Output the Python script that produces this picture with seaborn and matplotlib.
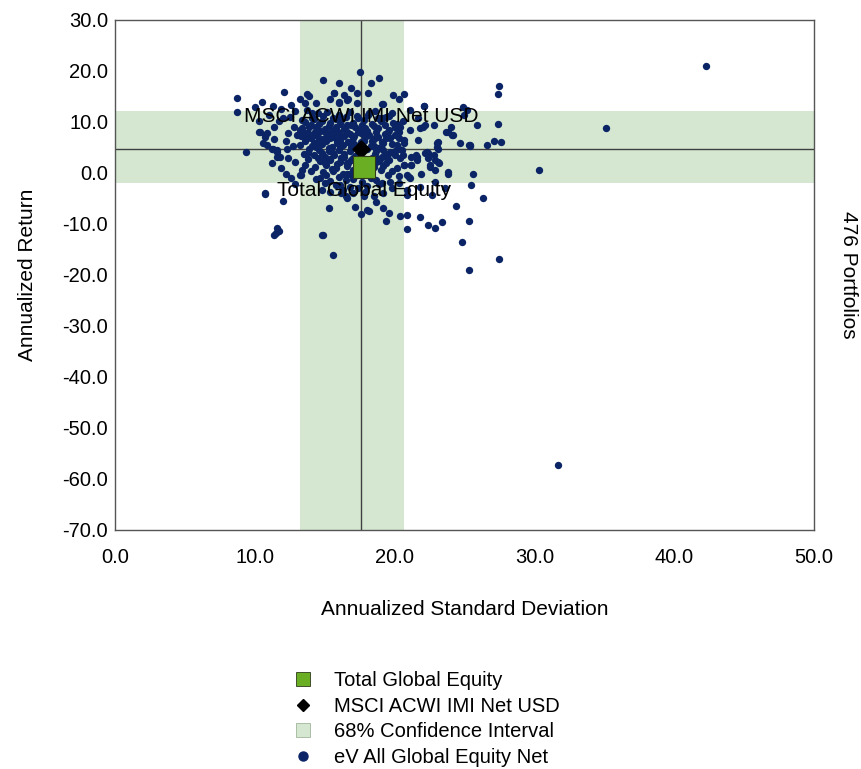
import numpy as np
import pandas as pd
import matplotlib
matplotlib.use("Agg")
import matplotlib.pyplot as plt
from matplotlib.lines import Line2D
import seaborn as sns

# peer universe (annualized std dev, annualized return)
peer_sd = [
    42.3, 35.1, 30.3, 31.7, 27.5, 27.4, 24.9, 25.0, 25.9, 27.4, 27.1, 27.6, 26.6, 25.4,
    25.6, 25.5, 26.3, 25.3, 24.8, 27.5, 25.3, 15.6, 14.8, 11.5, 11.6, 10.7, 9.4, 8.7, 8.7,
    11.2, 10.7, 12.0, 13.4, 13.3, 11.6, 11.6, 11.2, 10.9, 10.7, 13.2, 11.7, 11.4, 15.3,
    14.9, 14.4, 15.1, 15.4, 14.8, 16.5, 16.1,
    23.8, 24.4, 23.4, 22.9, 22.4, 21.8, 20.9, 20.9, 20.4, 19.4, 19.6, 17.6, 18.0, 18.2,
    19.2, 18.7, 17.2, 16.6, 20.9, 21.8, 22.9, 23.2, 22.5, 23.1, 22.8, 22.4, 21.6, 21.2,
    21.0, 20.7, 19.8, 19.1, 19.4, 20.0, 20.6, 22.3, 20.3, 19.7, 19.1, 19.2, 18.5, 17.9,
    17.0, 16.3, 16.5, 16.8, 16.6, 16.2, 18.7, 19.0, 18.7, 19.7,
    10.5, 12.1, 13.2, 13.7, 12.6, 10.3, 10.7, 11.4, 11.7, 12.0, 12.8, 13.0, 12.4, 13.6,
    13.9, 13.7, 14.1, 13.4, 13.9, 13.6, 13.2,
    14.9, 16.0, 15.7, 16.4, 16.0, 10.6, 11.3, 11.6, 12.3, 11.8, 10.9, 10.4, 11.4,
    17.5, 18.9, 18.3, 17.3, 18.1, 19.9, 20.7, 20.3, 19.2, 22.1, 16.6, 17.3, 22.8, 23.7,
    24.2, 23.1, 23.0, 24.7, 22.0, 21.1, 20.3, 21.7, 22.2, 21.5, 20.7, 20.3, 19.7, 20.0,
    19.2, 18.7, 18.5, 19.2, 21.1, 21.7, 25.3,
    22.1, 20.4, 21.8, 23.8, 24.1, 23.1, 23.0, 25.4, 20.3, 20.7, 20.2, 20.5, 21.2, 21.6,
    22.3, 22.4, 22.9, 22.5, 20.7, 21.2, 22.9, 23.8, 20.9, 21.1, 21.9, 23.6, 22.7, 20.9,
    22.2, 24.0, 25.2,
    15.7, 16.9, 16.0, 16.7, 14.4, 15.4, 19.1, 18.2, 18.8, 19.8,
    14.5, 15.2, 16.0, 16.8, 17.3, 18.6, 19.4, 15.6, 14.2,
    13.6, 14.8, 15.4, 16.2, 17.0, 17.8, 18.4, 19.0, 19.9, 20.6, 14.0, 16.6,
    13.4, 14.4, 15.0, 15.8, 16.4, 17.2, 17.9, 18.8, 19.6, 20.1, 14.7, 15.5, 17.5,
    13.8, 14.3, 15.2, 16.0, 16.8, 17.6, 18.2, 19.3, 20.0, 13.3, 15.7, 16.4,
    14.0, 14.9, 15.4, 16.1, 17.0, 17.8, 18.5, 19.1, 13.6, 14.5, 16.7, 15.9,
    13.2, 14.1, 14.8, 15.5, 16.3, 17.1, 18.3, 19.0, 19.8, 13.9, 14.6, 15.3, 16.0, 16.8,
    18.7, 20.0,
    13.5, 14.2, 15.0, 15.7, 16.4, 17.2, 18.4, 19.3, 20.4, 13.8, 14.7, 15.4, 16.1, 16.9,
    17.4, 18.9, 19.6,
    13.6, 14.3, 15.1, 15.8, 16.6, 17.0, 18.5, 19.2, 20.2, 14.0, 14.9, 15.6, 16.3, 17.3,
    18.2, 19.5, 20.3,
    14.7, 15.4, 16.0, 17.0, 17.7, 18.3, 18.9, 15.8, 16.8, 17.4, 18.0, 19.8, 16.2, 17.8,
    15.0,
    10.3, 11.0, 11.9, 12.5, 12.9, 11.3, 10.0, 12.2, 12.7, 12.4, 12.9, 11.9, 12.6, 12.9,
    12.2,
    # dense core, second pass
    14.1, 14.9, 15.8, 16.5, 17.4, 18.1, 18.9, 19.6, 13.9, 14.6, 15.3, 16.1, 16.9, 17.7,
    18.5, 19.3, 20.2, 14.3, 15.0, 15.9, 16.6, 17.4, 18.0, 18.7, 19.5, 13.7, 14.5, 15.2,
    16.2, 17.1, 17.9, 18.8, 19.4, 14.2, 15.1, 15.9, 16.7, 17.6, 18.4, 19.2, 14.4, 15.3,
    16.1, 16.9, 18.0, 18.8, 13.8, 14.8, 15.6, 16.4, 17.5, 18.6, 19.5, 14.5, 15.4, 16.2,
    17.0, 17.9, 18.9, 15.0, 15.9, 16.7, 17.8, 18.6, 15.5, 16.6, 17.5,
]
peer_ret = [
    21.0, 8.8, 0.5, -57.3, 17.0, 15.4, 13.0, 11.4, 9.4, 9.7, 6.3, 6.1, 5.4, 5.2,
    -0.1, -2.4, -4.9, -9.5, -13.6, -16.9, -19.0, -16.1, -12.2, -11.8, -10.8, -3.9, 4.1, 14.7, 12.0,
    1.9, -4.2, -5.5, 0.6, -0.3, 3.2, 4.5, 4.8, 5.5, 7.1, -0.4, -11.3, -12.2, -6.9,
    -12.2, -1.2, -0.4, -3.7, -3.3, -4.6, -2.4,
    0.1, -6.5, -9.7, -10.8, -10.2, -8.7, -11.0, -8.2, -8.4, -9.4, -7.9, -8.1, -7.3, -7.4,
    -6.9, -5.6, -6.6, -5.0, -3.3, -2.7, -1.7, 1.9, 1.6, 2.2, 3.5, 3.9, 3.2, 1.6,
    -0.7, 1.6, 0.3, 3.2, 1.9, 3.5, 3.5, 4.2, -2.0, -1.7, -2.0, -4.0, -4.6, -3.7,
    -4.0, -3.3, -1.4, -0.1, 1.9, 2.9, -1.4, 0.6, 2.5, 4.2,
    14.0, 15.9, 14.5, 15.4, 13.3, 8.1, 7.5, 9.1, 10.1, 10.7, 9.1, 7.5, 7.8, 13.7,
    15.0, 12.4, 11.7, 10.4, 9.1, 7.8, 8.4,
    18.2, 17.6, 15.6, 15.3, 13.8, 5.8, 4.8, 4.2, 4.8, 3.2, 7.8, 8.1, 6.6,
    19.9, 18.6, 17.7, 15.6, 15.6, 15.2, 15.4, 14.5, 13.5, 13.2, 14.3, 13.7, 9.4, 8.1,
    7.5, 6.1, 5.0, 5.8, 9.1, 8.4, 8.1, 6.5, 3.9, 3.5, 5.8, 4.8, 6.8, 9.1,
    10.7, 7.1, 5.2, 4.5, 12.4, 10.7, 5.5,
    13.1, 9.1, 8.8, 8.1, 7.5, 4.8, 5.8, 5.4, 6.8, 6.5, 5.5, 4.5, 3.2, 2.5,
    3.9, 2.9, 2.5, 1.2, 1.6, 1.6, 0.6, -0.1, -0.4, -0.9, -0.1, -3.0, -4.3, -4.3,
    9.4, 9.1, 12.4,
    15.6, 16.7, 14.0, 14.5, 13.7, 14.6, 13.5, 11.7, 10.7, 11.7,
    11.8, 12.0, 11.4, 11.9, 11.2, 12.1, 11.0, 10.8, 10.6,
    10.0, 10.2, 9.8, 10.3, 9.9, 10.4, 9.6, 10.1, 9.9, 10.2, 9.5, 9.4,
    8.9, 9.0, 8.7, 9.1, 8.6, 9.0, 8.8, 8.9, 8.5, 8.9, 8.3, 8.2, 8.4,
    7.9, 7.6, 7.7, 7.9, 7.6, 7.8, 7.4, 7.7, 7.4, 7.2, 7.1, 7.3,
    6.9, 6.6, 6.9, 6.5, 6.8, 6.3, 6.6, 6.1, 6.2, 6.0, 6.0, 5.8,
    5.4, 5.3, 5.6, 5.1, 5.4, 5.6, 5.3, 5.0, 5.7, 4.7, 4.5, 4.3, 4.6, 4.4,
    4.4, 4.3,
    3.8, 3.5, 3.2, 3.6, 3.1, 3.4, 3.0, 3.4, 3.0, 2.7, 2.4, 2.6, 2.2, 2.6,
    2.0, 2.3, 2.5,
    1.5, 1.2, 1.6, 0.9, 1.3, 0.6, 1.1, 1.3, 0.9, 0.3, 0.1, 0.4, -0.2, -0.3,
    0.2, -0.3, -0.6,
    -0.9, -1.5, -0.8, -1.2, -1.8, -0.9, -2.2, -2.4, -2.8, -3.0, -2.5, -3.0, -3.9, -4.5,
    -2.0,
    10.2, 11.4, 12.5, 11.0, 12.2, 13.2, 12.9, 6.2, 5.3, 3.0, 2.1, 1.0, -1.0, -2.2,
    -0.1,
    # dense core, second pass
    10.7, 11.1, 10.6, 11.0, 10.7, 11.3, 10.8, 11.2, 9.2, 9.6, 9.3, 9.7, 9.4, 9.5,
    9.2, 9.4, 9.6, 8.1, 8.0, 8.3, 8.1, 8.0, 8.2, 8.1, 8.0, 6.8, 7.1, 7.3,
    7.0, 7.2, 7.1, 7.0, 6.9, 5.9, 6.2, 6.3, 6.1, 6.0, 6.2, 5.9, 5.0, 4.9,
    5.1, 5.0, 4.8, 4.9, 3.9, 3.9, 4.0, 3.8, 4.0, 3.7, 3.8, 2.9, 2.8, 3.0,
    2.9, 2.7, 2.8, 1.9, 1.7, 2.0, 1.8, 1.9, 0.8, -0.1, 0.9,
]

fund_name = "Total Global Equity"
fund_sd, fund_ret = 17.8, 1.2
bench_name = "MSCI ACWI IMI Net USD"
bench_sd, bench_ret = 17.6, 4.8
ci_sd = [13.2, 20.7]
ci_ret = [-2.0, 12.2]
peer_name = "eV All Global Equity Net"
n_portfolios = 476

navy = "#0b2466"
band = "#d5e7d0"
green = "#6aaf23"

sns.set_style("white")
plt.rcParams["font.family"] = ["Liberation Sans", "DejaVu Sans"]
plt.rcParams["text.color"] = "black"
plt.rcParams["axes.labelcolor"] = "black"
plt.rcParams["xtick.color"] = "black"
plt.rcParams["ytick.color"] = "black"

fig = plt.figure(figsize=(8.62, 7.69), dpi=100)
ax = fig.add_axes([0.1334, 0.3108, 0.8109, 0.6632])

# confidence bands and crosshair
ax.axvspan(ci_sd[0], ci_sd[1], color=band, lw=0, zorder=0)
ax.axhspan(ci_ret[0], ci_ret[1], color=band, lw=0, zorder=0)
ax.axvline(bench_sd, color="#404040", lw=1, zorder=1)
ax.axhline(bench_ret, color="#404040", lw=1, zorder=1)

peers = pd.DataFrame({"sd": peer_sd, "ret": peer_ret})
sns.scatterplot(data=peers, x="sd", y="ret", ax=ax, color=navy, s=28,
                linewidth=0, zorder=3, legend=False)

ax.scatter([bench_sd], [bench_ret], marker="D", s=75, color="black", zorder=5)
ax.scatter([fund_sd], [fund_ret], marker="s", s=270, color=green,
           edgecolor="#2e3a1a", linewidth=0.8, zorder=6)

ax.text(bench_sd, 11.0, bench_name, ha="center", va="center", fontsize=15, zorder=7)
ax.text(fund_sd, -3.4, fund_name, ha="center", va="center", fontsize=15, zorder=7)

ax.set_xlim(0, 50)
ax.set_ylim(-70, 30)
ax.set_xticks(np.arange(0, 51, 10))
ax.set_yticks(np.arange(-70, 31, 10))
ax.set_xticklabels([f"{v:.1f}" for v in np.arange(0, 51, 10)])
ax.set_yticklabels([f"{v:.1f}" for v in np.arange(-70, 31, 10)])
ax.tick_params(length=0, labelsize=14.5)
ax.tick_params(axis="x", pad=13)
ax.tick_params(axis="y", pad=5)
for sp in ax.spines.values():
    sp.set_color("#555555")
    sp.set_linewidth(1)

ax.set_xlabel("Annualized Standard Deviation", fontsize=15, labelpad=24)
ax.set_ylabel("Annualized Return", fontsize=15, labelpad=18)
fig.text(0.984, 0.642, f"{n_portfolios} Portfolios", rotation=-90,
         ha="center", va="center", fontsize=15)

handles = [
    Line2D([], [], marker="s", ls="", markersize=10, markerfacecolor=green,
           markeredgecolor="#2e3a1a", markeredgewidth=0.6),
    Line2D([], [], marker="D", ls="", markersize=6.5, color="black"),
    Line2D([], [], marker="s", ls="", markersize=10, markerfacecolor=band,
           markeredgecolor="#9fb59a", markeredgewidth=0.6),
    Line2D([], [], marker="o", ls="", markersize=6.5, color=navy),
]
labels = [fund_name, bench_name, "68% Confidence Interval", peer_name]
fig.legend(handles, labels, loc="upper left", bbox_to_anchor=(0.328, 0.138),
           frameon=False, fontsize=14.5, handletextpad=0.95, labelspacing=0.33,
           borderaxespad=0, handlelength=1.2)

fig.savefig("out.png", dpi=100)
